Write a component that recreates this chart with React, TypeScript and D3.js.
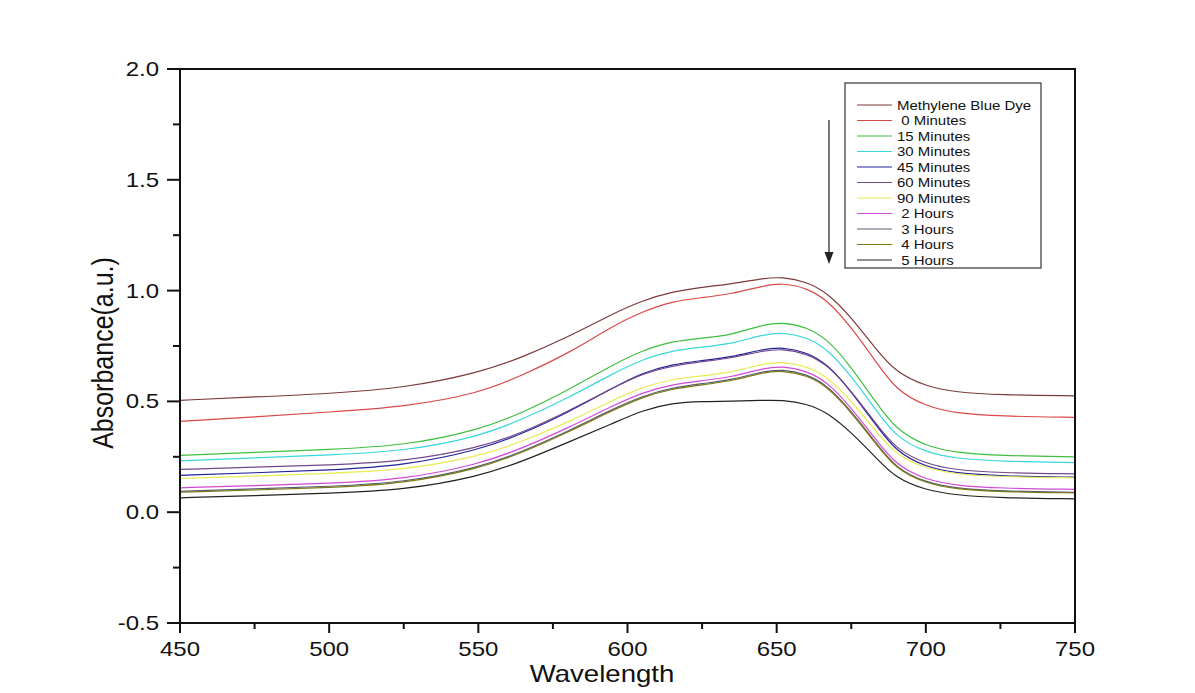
import React from 'react';
import * as d3 from 'd3';

// UV-vis absorbance spectra of methylene blue during photodegradation
const wavelengths = [450, 475, 500, 525, 550, 565, 580, 595, 605, 615, 625, 635, 645, 652, 660, 667, 675, 683, 690, 700, 710, 725, 750];

const methyleneBlueDye = [0.505, 0.52, 0.535, 0.56, 0.628, 0.70, 0.79, 0.895, 0.955, 0.995, 1.015, 1.03, 1.055, 1.062, 1.04, 0.99, 0.88, 0.74, 0.63, 0.568, 0.541, 0.529, 0.525];
const min0 = [0.41, 0.43, 0.452, 0.475, 0.535, 0.62, 0.715, 0.84, 0.905, 0.952, 0.968, 0.985, 1.02, 1.035, 1.012, 0.958, 0.835, 0.685, 0.55, 0.478, 0.446, 0.433, 0.428];
const min15 = [0.256, 0.27, 0.283, 0.30, 0.37, 0.45, 0.55, 0.665, 0.73, 0.772, 0.785, 0.80, 0.845, 0.858, 0.835, 0.782, 0.655, 0.5, 0.372, 0.298, 0.268, 0.255, 0.25];
const min30 = [0.232, 0.245, 0.258, 0.275, 0.34, 0.42, 0.515, 0.625, 0.69, 0.73, 0.745, 0.76, 0.80, 0.812, 0.79, 0.737, 0.615, 0.466, 0.338, 0.27, 0.242, 0.229, 0.224];
const min45 = [0.166, 0.178, 0.19, 0.21, 0.28, 0.355, 0.45, 0.56, 0.63, 0.667, 0.685, 0.70, 0.735, 0.745, 0.722, 0.669, 0.545, 0.398, 0.272, 0.204, 0.176, 0.163, 0.158];
const min60 = [0.193, 0.203, 0.213, 0.228, 0.29, 0.36, 0.455, 0.56, 0.625, 0.66, 0.68, 0.695, 0.728, 0.738, 0.716, 0.666, 0.547, 0.405, 0.283, 0.218, 0.19, 0.178, 0.173];
const min90 = [0.152, 0.163, 0.175, 0.19, 0.25, 0.32, 0.405, 0.505, 0.565, 0.60, 0.615, 0.63, 0.67, 0.68, 0.659, 0.612, 0.502, 0.37, 0.257, 0.197, 0.171, 0.16, 0.155];
const hours2 = [0.11, 0.12, 0.13, 0.148, 0.215, 0.29, 0.38, 0.48, 0.54, 0.577, 0.593, 0.61, 0.648, 0.66, 0.638, 0.588, 0.471, 0.332, 0.211, 0.147, 0.12, 0.108, 0.103];
const hours3 = [0.094, 0.105, 0.116, 0.134, 0.2, 0.275, 0.365, 0.465, 0.525, 0.562, 0.58, 0.597, 0.635, 0.645, 0.623, 0.573, 0.456, 0.318, 0.197, 0.134, 0.107, 0.095, 0.09];
const hours4 = [0.09, 0.1, 0.111, 0.129, 0.195, 0.27, 0.36, 0.46, 0.52, 0.557, 0.575, 0.592, 0.63, 0.64, 0.618, 0.568, 0.451, 0.313, 0.193, 0.13, 0.104, 0.092, 0.087];
const hours5 = [0.065, 0.075, 0.085, 0.10, 0.16, 0.23, 0.315, 0.40, 0.46, 0.493, 0.50, 0.50, 0.505, 0.506, 0.49, 0.45, 0.36, 0.25, 0.152, 0.1, 0.077, 0.065, 0.06];

const seriesNames = ['Methylene Blue Dye', ' 0 Minutes', '15 Minutes', '30 Minutes', '45 Minutes', '60 Minutes', '90 Minutes', ' 2 Hours', ' 3 Hours', ' 4 Hours', ' 5 Hours'];
const seriesValues = [methyleneBlueDye, min0, min15, min30, min45, min60, min90, hours2, hours3, hours4, hours5];
const seriesColors = ['#7d3a3a', '#d94848', '#3fbf3f', '#3ad6dc', '#222299', '#74488a', '#eaea55', '#d24ad2', '#5a5a78', '#7a7a10', '#222222'];

const xTicks = [450, 500, 550, 600, 650, 700, 750];
const xMinor = [475, 525, 575, 625, 675, 725];
const yTicks = [-0.5, 0.0, 0.5, 1.0, 1.5, 2.0];
const yMinor = [-0.25, 0.25, 0.75, 1.25, 1.75];

const W = 1195;
const H = 693;
const left = 180, right = 1075, top = 69, bottom = 623;
const SX = 1.2; // text is a little wider than tall
const FONT = 'Liberation Sans, Arial, sans-serif';

export default function App() {
  const x = d3.scaleLinear().domain([450, 750]).range([left, right]);
  const y = d3.scaleLinear().domain([-0.5, 2.0]).range([bottom, top]);

  const line = d3
    .line<number>()
    .x((_, i) => x(wavelengths[i]))
    .y((d) => y(d))
    .curve(d3.curveBasis);

  const legX = 845, legY = 83, legW = 196, legH = 185;
  const rowH = 15.5;

  return (
    <svg width={W} height={H} style={{ position: 'absolute', left: 0, top: 0, background: '#fff' }} fontFamily={FONT}>
      <rect x={0} y={0} width={W} height={H} fill="#fff" />

      {/* spectra */}
      <g fill="none" strokeWidth={1.2}>
        {seriesValues.map((vals, i) => (
          <path key={i} d={line(vals) || ''} stroke={seriesColors[i]} />
        ))}
      </g>

      {/* frame */}
      <rect x={left} y={top} width={right - left} height={bottom - top} fill="none" stroke="#111" strokeWidth={2} />

      {/* ticks */}
      <g stroke="#111" strokeWidth={2}>
        {yTicks.map((t) => (
          <line key={t} x1={left - 13} x2={left} y1={y(t)} y2={y(t)} />
        ))}
        {yMinor.map((t) => (
          <line key={t} x1={left - 7} x2={left} y1={y(t)} y2={y(t)} />
        ))}
        {xTicks.map((t) => (
          <line key={t} x1={x(t)} x2={x(t)} y1={bottom} y2={bottom + 10} />
        ))}
        {xMinor.map((t) => (
          <line key={t} x1={x(t)} x2={x(t)} y1={bottom} y2={bottom + 6} />
        ))}
      </g>

      <g fontSize={20} fill="#111">
        {yTicks.map((t) => (
          <text key={t} transform={`translate(159,${y(t) + 7}) scale(${SX},1)`} textAnchor="end">
            {t.toFixed(1)}
          </text>
        ))}
        {xTicks.map((t) => (
          <text key={t} transform={`translate(${x(t)},656) scale(${SX},1)`} textAnchor="middle">
            {t}
          </text>
        ))}
      </g>

      <text transform={`translate(602,682) scale(${SX},1)`} textAnchor="middle" fontSize={23} fill="#111">
        Wavelength
      </text>
      <text transform={`translate(113,353) scale(${SX},1) rotate(-90)`} textAnchor="middle" fontSize={25} fill="#111">
        Absorbance(a.u.)
      </text>

      {/* legend */}
      <rect x={legX} y={legY} width={legW} height={legH} fill="#fff" stroke="#444" strokeWidth={1.3} />
      {seriesNames.map((name, i) => {
        const cy = 105 + i * rowH;
        return (
          <g key={name}>
            <line x1={857} x2={892} y1={cy} y2={cy} stroke={seriesColors[i]} strokeWidth={1.2} />
            <text transform={`translate(897,${cy + 4.5}) scale(${SX},1)`} fontSize={12.5} fill="#111" style={{ whiteSpace: 'pre' }}>
              {name}
            </text>
          </g>
        );
      })}

      {/* arrow: absorbance falls with irradiation time */}
      <line x1={829} x2={829} y1={120} y2={254} stroke="#333" strokeWidth={1.3} />
      <path d="M824.5,252 L833.5,252 L829,264 Z" fill="#222" />
    </svg>
  );
}
